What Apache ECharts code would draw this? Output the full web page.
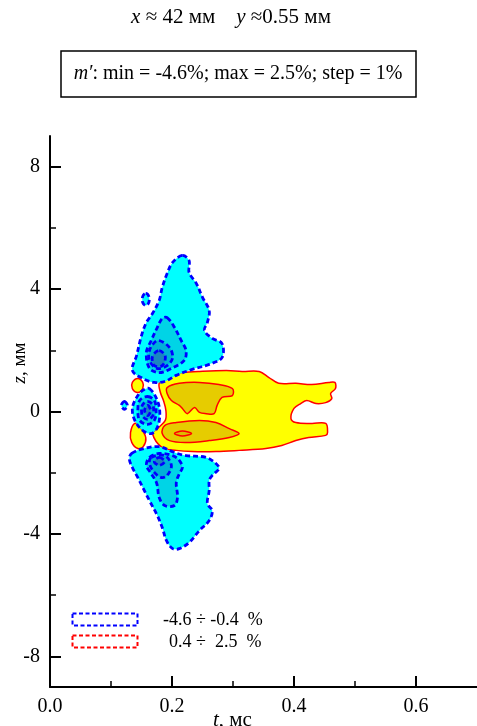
<!DOCTYPE html>
<html><head><meta charset="utf-8">
<script src="https://cdn.jsdelivr.net/npm/echarts@6/dist/echarts.min.js"></script>
<style>html,body{margin:0;padding:0;background:#fff}#c{width:477px;height:726px}</style>
</head><body><div id="c"></div>
<script>
// ---- tick values / labels ----
const tickT = [0, 0.2, 0.4, 0.6];
const minorT = [0.1, 0.3, 0.5];
const tickZ = [-8, -4, 0, 4, 8];
const minorZ = [-6, -2, 2, 6];
const legendLabels = ['-4.6 ÷ -0.4  %', '0.4 ÷  2.5  %'];

// ---- contour polygons [t (ms), z (mm)] ----
// positive levels
const posOuterMain = [[0.179,0.92],[0.191,1.18],[0.217,1.27],[0.245,1.31],[0.289,1.34],[0.315,1.31],[0.343,1.31],[0.359,1.11],[0.375,0.92],[0.403,0.92],[0.429,0.88],[0.457,0.95],[0.467,0.95],[0.468,0.75],[0.460,0.59],[0.462,0.42],[0.452,0.29],[0.436,0.26],[0.421,0.36],[0.411,0.26],[0.400,0.10],[0.395,-0.23],[0.403,-0.36],[0.429,-0.39],[0.452,-0.39],[0.455,-0.69],[0.452,-0.78],[0.424,-0.85],[0.403,-0.95],[0.380,-1.11],[0.354,-1.21],[0.310,-1.27],[0.272,-1.31],[0.233,-1.31],[0.207,-1.27],[0.184,-1.18],[0.168,-0.72],[0.176,-0.56],[0.189,-0.29],[0.190,0.03],[0.186,0.36],[0.181,0.62]];
const posOuterBlobA = [[0.144,1.08],[0.152,0.95],[0.152,0.75],[0.144,0.62],[0.135,0.75],[0.135,0.95]];
const posOuterBlobB = [[0.139,-0.39],[0.148,-0.52],[0.157,-0.85],[0.153,-1.14],[0.144,-1.21],[0.134,-1.01],[0.132,-0.69]];
const posMidUpper = [[0.192,0.78],[0.212,0.92],[0.245,0.95],[0.277,0.88],[0.299,0.75],[0.299,0.52],[0.282,0.46],[0.274,0.20],[0.269,-0.07],[0.256,-0.07],[0.245,-0.03],[0.237,0.13],[0.225,-0.07],[0.217,0.10],[0.212,0.20],[0.199,0.36],[0.192,0.59]];
const posMidLower = [[0.188,-0.46],[0.207,-0.36],[0.245,-0.29],[0.272,-0.36],[0.294,-0.56],[0.310,-0.72],[0.294,-0.85],[0.261,-0.95],[0.223,-1.01],[0.196,-0.95],[0.184,-0.72]];
const posInner = [[0.204,-0.72],[0.217,-0.64],[0.232,-0.72],[0.217,-0.80]];

// negative levels
const negOuterUpper = [[0.217,5.10],[0.228,4.93],[0.228,4.54],[0.240,4.18],[0.250,3.73],[0.261,3.30],[0.258,2.91],[0.253,2.65],[0.266,2.39],[0.282,2.22],[0.282,1.76],[0.261,1.54],[0.232,1.37],[0.207,1.18],[0.188,0.98],[0.171,0.95],[0.152,1.08],[0.135,1.34],[0.142,1.83],[0.150,2.48],[0.158,2.91],[0.168,3.20],[0.179,3.63],[0.184,4.05],[0.192,4.51],[0.201,4.87]];
const negOuterLower = [[0.134,-1.37],[0.152,-1.22],[0.179,-1.15],[0.204,-1.34],[0.223,-1.44],[0.256,-1.50],[0.272,-1.70],[0.277,-1.86],[0.266,-2.09],[0.261,-2.25],[0.261,-2.58],[0.258,-3.01],[0.266,-3.24],[0.261,-3.56],[0.245,-3.89],[0.228,-4.28],[0.212,-4.48],[0.201,-4.48],[0.191,-4.22],[0.184,-3.79],[0.176,-3.40],[0.163,-2.91],[0.152,-2.48],[0.144,-2.16],[0.135,-1.83],[0.130,-1.54]];
const negOuterMid = [[0.163,0.75],[0.176,0.36],[0.180,-0.07],[0.176,-0.52],[0.166,-0.72],[0.152,-0.62],[0.139,-0.29],[0.135,0.10],[0.142,0.46],[0.152,0.69]];
const negOuterBlobA = [[0.157,3.86],[0.162,3.76],[0.162,3.56],[0.157,3.46],[0.152,3.56],[0.152,3.76]];
const negOuterBlobB = [[0.122,0.33],[0.127,0.20],[0.122,0.07],[0.117,0.20]];
const negL2Upper = [[0.192,3.07],[0.204,2.75],[0.215,2.32],[0.223,1.99],[0.220,1.67],[0.199,1.41],[0.179,1.27],[0.163,1.41],[0.158,1.93],[0.166,2.32],[0.176,2.75],[0.184,3.04]];
const negL2Mid = [[0.160,0.49],[0.171,0.36],[0.174,0.03],[0.171,-0.29],[0.160,-0.42],[0.147,-0.29],[0.144,0.03],[0.147,0.36]];
const negL2Lower = [[0.163,-1.50],[0.179,-1.37],[0.201,-1.44],[0.212,-1.60],[0.217,-1.83],[0.212,-2.03],[0.207,-2.32],[0.209,-2.81],[0.204,-3.07],[0.188,-3.07],[0.179,-2.81],[0.175,-2.35],[0.166,-2.03],[0.158,-1.76]];
const negL3Upper = [[0.179,2.32],[0.196,2.09],[0.201,1.76],[0.192,1.50],[0.175,1.41],[0.163,1.67],[0.163,1.99],[0.171,2.25]];
const negL3Mid = [[0.160,0.33],[0.168,0.23],[0.170,0.03],[0.168,-0.16],[0.160,-0.26],[0.152,-0.16],[0.150,0.03],[0.152,0.23]];
const negL3Lower = [[0.166,-1.50],[0.188,-1.44],[0.199,-1.76],[0.192,-2.09],[0.183,-2.16],[0.171,-1.99],[0.163,-1.70]];
const negL4Upper = [[0.179,1.99],[0.189,1.80],[0.184,1.50],[0.171,1.50],[0.168,1.80]];
const negL4Mid = [[0.160,0.20],[0.165,0.03],[0.160,-0.13],[0.155,0.03]];
const negL4Lower = [[0.179,-1.50],[0.188,-1.63],[0.179,-1.76],[0.171,-1.63]];

const chart = echarts.init(document.getElementById('c'), null, {renderer: 'canvas'});
const FONT = '"Liberation Serif", "Times New Roman", serif';

function layer(polys, fill, stroke, dashed, lw) {
  return {
    type: 'custom', coordinateSystem: 'cartesian2d', xAxisIndex: 0, yAxisIndex: 0,
    silent: true, animation: false,
    data: polys.map(p => p[0]),
    renderItem: function (params, api) {
      const p = polys[params.dataIndex];
      return {
        type: 'polygon',
        shape: {points: p.map(q => api.coord(q)), smooth: 0.35},
        style: {fill: fill, stroke: stroke, lineWidth: lw, lineDash: dashed ? [5, 3] : null}
      };
    }
  };
}

const RED = '#FF0000', BLUE = '#0000FF';
const series = [
  layer([posOuterMain, posOuterBlobA, posOuterBlobB], '#FFFF00', RED, false, 1.5),
  layer([posMidUpper, posMidLower], '#E6CC00', RED, false, 1.5),
  layer([posInner], '#DDBB00', RED, false, 1.5),
  layer([negOuterUpper, negOuterLower, negOuterMid, negOuterBlobA, negOuterBlobB], '#00FFFF', BLUE, true, 2.8),
  layer([negL2Upper, negL2Mid, negL2Lower], '#00D4E6', BLUE, true, 2.8),
  layer([negL3Upper, negL3Mid, negL3Lower], '#00B0D8', BLUE, true, 2.8),
  layer([negL4Upper, negL4Mid, negL4Lower], '#1A86C0', BLUE, true, 2.8)
];

const axisCommon = {type: 'value', splitLine: {show: false}};
chart.setOption({
  animation: false,
  backgroundColor: '#fff',
  grid: {left: 50, top: 136, width: 429, height: 551},
  xAxis: [
    Object.assign({}, axisCommon, {
      min: 0, max: 0.7, position: 'bottom',
      axisLine: {show: true, onZero: false, lineStyle: {color: '#000', width: 2}},
      axisTick: {show: true, inside: true, length: 11, customValues: tickT, lineStyle: {color: '#000', width: 2}},
      axisLabel: {show: true, customValues: tickT, margin: 10, formatter: v => v.toFixed(1),
        color: '#000', fontFamily: FONT, fontSize: 20}
    }),
    Object.assign({}, axisCommon, {
      min: 0, max: 0.7, position: 'bottom', offset: 0,
      axisLine: {show: false, onZero: false},
      axisTick: {show: true, inside: true, length: 6, customValues: minorT, lineStyle: {color: '#000', width: 1.5}},
      axisLabel: {show: false}
    })
  ],
  yAxis: [
    Object.assign({}, axisCommon, {
      min: -9, max: 9, position: 'left',
      axisLine: {show: true, onZero: false, lineStyle: {color: '#000', width: 2}},
      axisTick: {show: true, inside: true, length: 11, customValues: tickZ, lineStyle: {color: '#000', width: 2}},
      axisLabel: {show: true, customValues: tickZ, margin: 10, color: '#000', fontFamily: FONT, fontSize: 20}
    }),
    Object.assign({}, axisCommon, {
      min: -9, max: 9, position: 'left', offset: 0,
      axisLine: {show: false, onZero: false},
      axisTick: {show: true, inside: true, length: 6, customValues: minorZ, lineStyle: {color: '#000', width: 1.5}},
      axisLabel: {show: false}
    })
  ],
  series: series,
  graphic: [
    {type: 'text', x: 231, y: 17, style: {
      text: '{i|x} ≈ 42 мм    {i|y} ≈0.55 мм', fontFamily: FONT, fontSize: 21, fill: '#000',
      align: 'center', verticalAlign: 'middle',
      rich: {i: {fontStyle: 'italic', fontFamily: FONT, fontSize: 21}}
    }},
    {type: 'rect', shape: {x: 61, y: 51, width: 355, height: 46}, style: {fill: '#fff', stroke: '#000', lineWidth: 1.5}},
    {type: 'text', x: 238, y: 74, style: {
      text: '{i|m′}: min = -4.6%; max = 2.5%; step = 1%', fontFamily: FONT, fontSize: 20, fill: '#000',
      align: 'center', verticalAlign: 'middle',
      rich: {i: {fontStyle: 'italic', fontFamily: FONT, fontSize: 20}}
    }},
    {type: 'rect', z: 100, shape: {x: 72.5, y: 613.5, width: 65, height: 12}, style: {fill: 'none', stroke: BLUE, lineWidth: 2, lineDash: [4, 2.5]}},
    {type: 'rect', z: 100, shape: {x: 72.5, y: 635.5, width: 65, height: 12}, style: {fill: 'none', stroke: RED, lineWidth: 2, lineDash: [4, 2.5]}},
    {type: 'text', z: 100, x: 163, y: 620, style: {text: legendLabels[0], fontFamily: FONT, fontSize: 18, fill: '#000', verticalAlign: 'middle'}},
    {type: 'text', z: 100, x: 169, y: 642, style: {text: legendLabels[1], fontFamily: FONT, fontSize: 18, fill: '#000', verticalAlign: 'middle'}},
    {type: 'text', z: 100, x: 213, y: 720, style: {
      text: '{i|t}, мс', fontFamily: FONT, fontSize: 21, fill: '#000', verticalAlign: 'middle',
      rich: {i: {fontStyle: 'italic', fontFamily: FONT, fontSize: 21}}
    }},
    {type: 'text', z: 100, x: 20, y: 363, rotation: Math.PI / 2, style: {
      text: '{i|z}, мм', fontFamily: FONT, fontSize: 19, fill: '#000', align: 'center', verticalAlign: 'middle',
      rich: {i: {fontStyle: 'italic', fontFamily: FONT, fontSize: 19}}
    }}
  ]
});
</script></body></html>
